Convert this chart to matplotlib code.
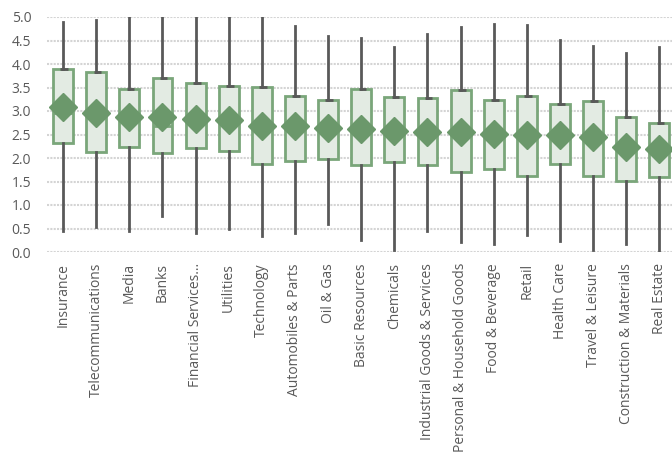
import matplotlib
matplotlib.use("Agg")
import matplotlib.pyplot as plt

# Sectores y estadísticos
sectores = ["Insurance", "Telecommunications", "Media", "Banks", "Financial Services...",
            "Utilities", "Technology", "Automobiles & Parts", "Oil & Gas", "Basic Resources",
            "Chemicals", "Industrial Goods & Services", "Personal & Household Goods",
            "Food & Beverage", "Retail", "Health Care", "Travel & Leisure",
            "Construction & Materials", "Real Estate"]
minimo = [0.45, 0.53, 0.45, 0.77, 0.41, 0.48, 0.33, 0.41, 0.59, 0.26,
          0.05, 0.45, 0.21, 0.16, 0.36, 0.24, 0.05, 0.16, 0.00]
q1 = [2.32, 2.12, 2.23, 2.10, 2.22, 2.15, 1.87, 1.94, 1.98, 1.85,
      1.91, 1.85, 1.71, 1.76, 1.61, 1.87, 1.61, 1.51, 1.59]
mediana = [2.95, 2.95, 2.88, 2.68, 2.84, 2.81, 2.68, 2.68, 2.64, 2.61,
           2.57, 2.55, 2.55, 2.52, 2.50, 2.50, 2.45, 2.24, 2.19]
media = [3.08, 2.95, 2.88, 2.88, 2.84, 2.81, 2.68, 2.68, 2.64, 2.61,
         2.57, 2.55, 2.55, 2.52, 2.50, 2.50, 2.45, 2.24, 2.19]
q3 = [3.89, 3.84, 3.47, 3.71, 3.60, 3.53, 3.52, 3.32, 3.24, 3.47,
      3.29, 3.27, 3.45, 3.24, 3.32, 3.14, 3.22, 2.88, 2.75]
maximo = [4.90, 4.93, 5.05, 5.05, 5.05, 5.05, 5.05, 4.80, 4.60, 4.56,
          4.36, 4.63, 4.78, 4.86, 4.83, 4.51, 4.39, 4.24, 4.37]

verde_borde = "#7aa67a"
verde_relleno = "#e3ebe3"
verde_media = "#6b986b"
gris = "#595959"

plt.rcParams["font.family"] = ["Open Sans", "DejaVu Sans"]
plt.rcParams["font.size"] = 10

stats = []
for i in range(len(sectores)):
    stats.append(dict(label=sectores[i], whislo=minimo[i], q1=q1[i], med=mediana[i],
                      q3=q3[i], whishi=maximo[i], mean=media[i]))

fig = plt.figure(figsize=(6.72, 4.72), dpi=100)
ax = fig.add_axes([46.5 / 672, 1 - 252 / 472, (672 - 46.5) / 672, 235 / 472])

pos = list(range(len(sectores)))
ax.bxp(stats, positions=pos, widths=0.6, patch_artist=True, showmeans=True,
       showfliers=False, showcaps=True, capwidths=0.22,
       boxprops=dict(facecolor=verde_relleno, edgecolor=verde_borde, linewidth=2),
       medianprops=dict(color=verde_borde, linewidth=2),
       whiskerprops=dict(color=gris, linewidth=2),
       capprops=dict(color=gris, linewidth=0),
       meanprops=dict(marker="D", markersize=14, markerfacecolor=verde_media,
                      markeredgecolor=verde_media))

# pequeño tope oscuro en el borde superior de la caja
ax.hlines(q3, [p - 0.08 for p in pos], [p + 0.15 for p in pos], colors=gris, linewidth=2, zorder=3)

ax.set_ylim(0, 5.0)
ax.set_xlim(-0.5, 18.38)
ax.set_yticks([0, 0.5, 1.0, 1.5, 2.0, 2.5, 3.0, 3.5, 4.0, 4.5, 5.0])
ax.set_yticklabels(["0.0", "0.5", "1.0", "1.5", "2.0", "2.5", "3.0", "3.5", "4.0", "4.5", "5.0"])
ax.set_xticks(pos)
ax.set_xticklabels(sectores, rotation=90)
ax.tick_params(axis="both", length=0, colors=gris, labelsize=10)
ax.tick_params(axis="y", pad=11)
ax.tick_params(axis="x", pad=8)
ax.grid(axis="y", color="#d4d4d4", linestyle=(0, (1, 0.6)), linewidth=1.5)
ax.set_axisbelow(True)
for s in ax.spines.values():
    s.set_visible(False)

fig.savefig("out.png", dpi=100)
